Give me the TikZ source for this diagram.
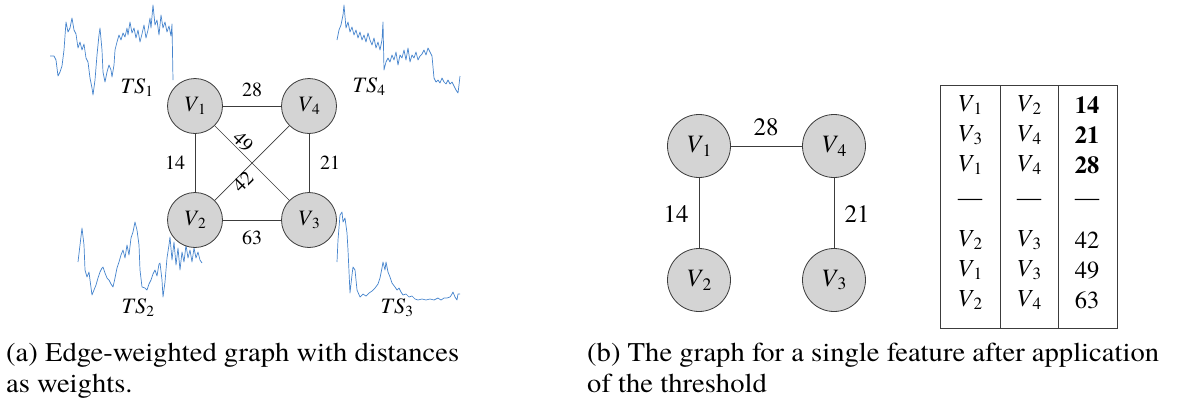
\documentclass[tikz,border=0pt]{standalone}
\usepackage{fontspec}
\setmainfont{texgyretermes}[Extension=.otf,UprightFont=*-regular,ItalicFont=*-italic,BoldFont=*-bold,BoldItalicFont=*-bolditalic]
\newfontfamily\capfont{texgyretermes}[Extension=.otf,UprightFont=*-regular,ItalicFont=*-italic,BoldFont=*-bold,BoldItalicFont=*-bolditalic,FakeStretch=1.06]
\newcommand{\Vsub}[1]{\textit{V}\kern-0.03em\textsubscript{#1}}
\newcommand{\TSsub}[1]{\textit{T\kern0.06em S}\textsubscript{#1}}
\definecolor{tsblue}{RGB}{70,132,205}
\definecolor{nodegray}{RGB}{212,212,212}
\definecolor{linegray}{RGB}{60,60,60}
\begin{document}
\begin{tikzpicture}[x=1pt,y=-1pt,
  series/.style={tsblue,line width=0.7pt,line join=round},
  vnodeA/.style={circle,draw=linegray,fill=nodegray,line width=0.8pt,minimum size=55pt,inner sep=0pt,font=\fontsize{22}{24}\selectfont},
  vnodeB/.style={circle,draw=linegray,fill=nodegray,line width=0.8pt,minimum size=63pt,inner sep=0pt,font=\fontsize{25}{28}\selectfont},
  edgeline/.style={linegray,line width=0.7pt},
  wlabA/.style={font=\fontsize{20}{22}\selectfont,inner sep=0pt},
  wlabB/.style={font=\fontsize{25}{26}\selectfont,inner sep=0pt},
  tslab/.style={font=\fontsize{22}{24}\selectfont,inner sep=0pt},
  cell/.style={font=\fontsize{24.5}{26}\selectfont,inner sep=0pt},
  caption/.style={font=\capfont\fontsize{27}{31}\selectfont,inner sep=0pt,anchor=north west,align=left}
]
\useasboundingbox (0,0) rectangle (1181,416);

% ---------- time series ----------
\draw[series] (50,56) -- (54,56) -- (56,60) -- (57,68) -- (58,76) -- (60,72) -- (62,66) -- (64,50) -- (66,22) -- (68,32) -- (70,28) -- (72,18) -- (74,30) -- (76,34) -- (78,48) -- (80,42) -- (82,50) -- (84,44) -- (86,58) -- (88,62) -- (90,78) -- (92,88) -- (93,95) -- (95,80) -- (97,55) -- (99,35) -- (100,28) -- (102,50) -- (103,72) -- (105,82) -- (107,72) -- (109,65) -- (111,70) -- (112,77) -- (114,65) -- (115,50) -- (117,42) -- (119,35) -- (121,40) -- (123,33) -- (125,37) -- (127,28) -- (128,35) -- (130,22) -- (132,33) -- (134,28) -- (136,38) -- (138,30) -- (140,42) -- (142,34) -- (144,25) -- (146,38) -- (148,30) -- (150,18) -- (151,28) -- (153,5) -- (155,25) -- (157,20) -- (159,35) -- (161,15) -- (163,28) -- (165,22) -- (167,32) -- (169,26) -- (171,36) -- (172,24) -- (173,80);

\draw[series] (337,40) -- (339,30) -- (341,25) -- (343,15) -- (344,5) -- (346,28) -- (348,22) -- (350,32) -- (352,27) -- (354,35) -- (356,30) -- (358,38) -- (360,32) -- (362,40) -- (364,35) -- (366,42) -- (368,33) -- (370,40) -- (372,45) -- (374,38) -- (376,48) -- (378,42) -- (380,50) -- (382,40) -- (383,22) -- (384,70) -- (386,62) -- (388,58) -- (390,62) -- (392,55) -- (394,60) -- (396,52) -- (398,65) -- (400,55) -- (402,58) -- (404,50) -- (406,60) -- (408,48) -- (410,62) -- (412,55) -- (414,58) -- (416,52) -- (418,60) -- (420,56) -- (422,54) -- (424,50) -- (426,55) -- (428,48) -- (430,52) -- (432,56) -- (434,78) -- (436,82) -- (438,80) -- (440,83) -- (442,78) -- (444,82) -- (446,84) -- (448,80) -- (450,84) -- (452,82) -- (454,86) -- (456,90) -- (458,93) -- (459,85) -- (460,76);

\draw[series] (78,262) -- (80,245) -- (82,228) -- (84,245) -- (85,270) -- (87,277) -- (89,272) -- (90,280) -- (92,295) -- (94,290) -- (96,285) -- (98,278) -- (100,272) -- (102,268) -- (103,267) -- (105,273) -- (107,278) -- (109,280) -- (111,284) -- (113,287) -- (115,278) -- (117,268) -- (119,262) -- (121,255) -- (123,250) -- (125,258) -- (127,245) -- (129,255) -- (131,238) -- (133,232) -- (135,222) -- (137,230) -- (139,245) -- (140,270) -- (142,287) -- (145,288) -- (147,290) -- (149,284) -- (151,280) -- (153,274) -- (155,270) -- (157,276) -- (159,264) -- (160,263) -- (162,280) -- (163,297) -- (165,282) -- (167,258) -- (169,245) -- (170,237) -- (172,260) -- (174,242) -- (176,265) -- (178,248) -- (180,270) -- (182,252) -- (184,262) -- (186,245) -- (188,258) -- (190,250) -- (192,262) -- (194,248) -- (196,258) -- (198,252) -- (200,260) -- (202,263);

\draw[series] (337,262) -- (338,240) -- (340,215) -- (342,212) -- (343,222) -- (345,218) -- (347,233) -- (348,250) -- (350,293) -- (352,275) -- (353,267) -- (355,270) -- (356,280) -- (357,290) -- (360,297) -- (363,294) -- (366,296) -- (369,293) -- (372,291) -- (375,288) -- (378,284) -- (380,278) -- (382,268) -- (383,262) -- (385,270) -- (386,262) -- (388,272) -- (390,277) -- (392,283) -- (395,287) -- (397,290) -- (399,288) -- (401,292) -- (403,295) -- (406,294) -- (409,297) -- (412,296) -- (415,299) -- (418,300) -- (422,299) -- (426,300) -- (430,299) -- (434,300) -- (438,298) -- (441,300) -- (444,298) -- (447,298) -- (450,297) -- (452,294) -- (453,292) -- (455,297) -- (457,300) -- (458,294) -- (460,294);

\node[tslab] (ts1) at (137,88) {\TSsub{1}};
\node[tslab] (ts4) at (369,87) {\TSsub{4}};
\node[tslab] (ts2) at (138,308) {\TSsub{2}};
\node[tslab] (ts3) at (397,308) {\TSsub{3}};

% ---------- graph (a) ----------
\node[vnodeA] (a1) at (195,106) {\Vsub{1}};
\node[vnodeA] (a4) at (309,106) {\Vsub{4}};
\node[vnodeA] (a2) at (195,220) {\Vsub{2}};
\node[vnodeA] (a3) at (309,220) {\Vsub{3}};
\draw[edgeline] (a1) -- (a4);
\draw[edgeline] (a1) -- (a2);
\draw[edgeline] (a4) -- (a3);
\draw[edgeline] (a2) -- (a3);
\draw[edgeline] (a1) -- (a3);
\draw[edgeline] (a2) -- (a4);
\node[wlabA] (w28) at (252,90) {28};
\node[wlabA] (w14) at (175,163) {14};
\node[wlabA] (w21) at (330,163) {21};
\node[wlabA] (w63) at (252,238) {63};
\node[wlabA,rotate=-45] (w49) at (243,142) {49};
\node[wlabA,rotate=45] (w42) at (243,182) {42};

% ---------- graph (b) ----------
\node[vnodeB] (b1) at (699,146) {\Vsub{1}};
\node[vnodeB] (b4) at (834,146) {\Vsub{4}};
\node[vnodeB] (b2) at (699,280) {\Vsub{2}};
\node[vnodeB] (b3) at (834,280) {\Vsub{3}};
\draw[edgeline] (b1) -- (b4);
\draw[edgeline] (b1) -- (b2);
\draw[edgeline] (b4) -- (b3);
\node[wlabB] (v28) at (766,127) {28};
\node[wlabB] (v14) at (676,214) {14};
\node[wlabB] (v21) at (857,214) {21};

% ---------- table ----------
\draw[linegray,line width=0.8pt] (940,85) rectangle (1117,328);
\draw[linegray,line width=0.8pt] (1000,85) -- (1000,328);
\draw[linegray,line width=0.8pt] (1058,85) -- (1058,328);
\node[cell] (t11) at (970,105) {\Vsub{1}};
\node[cell] (t12) at (1029,105) {\Vsub{2}};
\node[cell] (t13) at (1087,105) {\textbf{14}};
\node[cell] (t21) at (970,135) {\Vsub{3}};
\node[cell] (t22) at (1029,135) {\Vsub{4}};
\node[cell] (t23) at (1087,135) {\textbf{21}};
\node[cell] (t31) at (970,165) {\Vsub{1}};
\node[cell] (t32) at (1029,165) {\Vsub{4}};
\node[cell] (t33) at (1087,165) {\textbf{28}};
\node[cell] (t41) at (970,202) {---};
\node[cell] (t42) at (1029,202) {---};
\node[cell] (t43) at (1087,202) {---};
\node[cell] (t51) at (970,240) {\Vsub{2}};
\node[cell] (t52) at (1029,240) {\Vsub{3}};
\node[cell] (t53) at (1087,240) {42};
\node[cell] (t61) at (970,270) {\Vsub{1}};
\node[cell] (t62) at (1029,270) {\Vsub{3}};
\node[cell] (t63) at (1087,270) {49};
\node[cell] (t71) at (970,300) {\Vsub{2}};
\node[cell] (t72) at (1029,300) {\Vsub{4}};
\node[cell] (t73) at (1087,300) {63};

% ---------- captions ----------
\node[caption] (capa) at (6,343) {(a) Edge-weighted graph with distances\\as weights.};
\node[caption] (capb) at (587,343) {(b) The graph for a single feature after application\\of the threshold};
\end{tikzpicture}
\end{document}
